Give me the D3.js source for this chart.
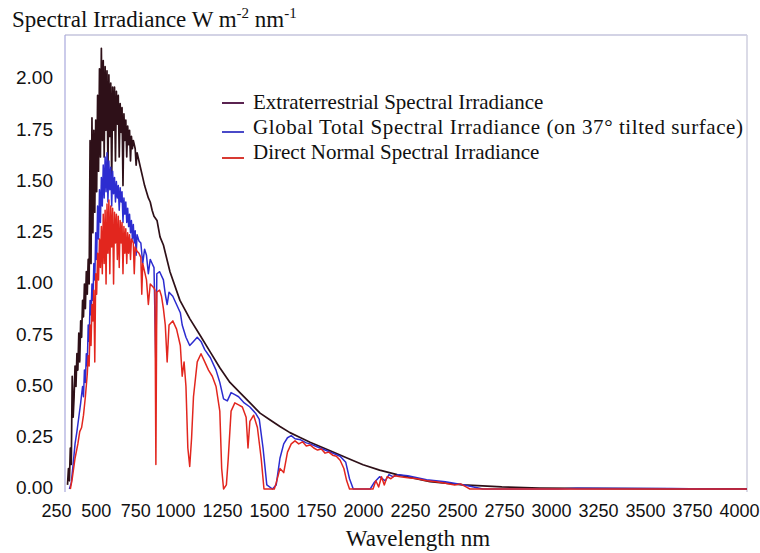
<!DOCTYPE html>
<html><head><meta charset="utf-8">
<script src="https://cdn.jsdelivr.net/npm/d3@7/dist/d3.min.js"></script>
<style>body{margin:0;background:#fff}svg{display:block}</style>
</head><body>
<svg id="c" width="760" height="553"></svg>
<script>
// ---- data ----
const seriesNames = ["Extraterrestrial Spectral Irradiance","Global Total Spectral Irradiance (on 37° tilted surface)","Direct Normal Spectral Irradiance"];
const xTicks = [250,500,750,1000,1250,1500,1750,2000,2250,2500,2750,3000,3250,3500,3750,4000];
const yTicks = [0,0.25,0.5,0.75,1.0,1.25,1.5,1.75,2.0];

const etrWl = [290,295,300,305,310,315,320,325,330,335,340,345,350,355,360,365,370,375,380,385,390,395,400,405,410,415,420,425,430,435,440,445,450,455,460,465,470,475,480,485,490,495,500,505,510,515,520,525,530,535,540,545,550,555,560,565,570,575,580,585,590,595,600,605,610,615,620,625,630,635,640,650,655,660,670,680,690,700,710,720,730,740,750,766,782,800,835,888,941,995,1048,1101,1154,1207,1261,1314,1370,1420,1473,1530,1580,1690,1780,1862,1950,2043,2218,2394,2600,2800,3000,3500,4000];
const etrVal = [0.02,0.10,0.04,0.20,0.12,0.55,0.35,0.45,0.60,0.50,0.66,0.58,0.76,0.62,0.82,0.74,0.92,0.84,1.00,0.88,1.06,0.95,1.12,1.00,1.70,1.10,1.81,1.25,1.75,1.35,1.80,1.45,1.92,1.55,2.05,1.62,2.15,1.70,2.09,1.62,2.06,1.75,2.04,1.55,2.02,1.72,1.98,1.50,1.96,1.75,1.96,1.60,1.94,1.78,1.92,1.62,1.88,1.74,1.86,1.48,1.83,1.70,1.80,1.62,1.77,1.68,1.75,1.60,1.72,1.66,1.70,1.66,1.58,1.64,1.60,1.56,1.52,1.48,1.45,1.42,1.40,1.36,1.33,1.31,1.23,1.19,1.06,0.92,0.83,0.75,0.67,0.59,0.52,0.47,0.42,0.37,0.335,0.305,0.275,0.25,0.228,0.185,0.15,0.118,0.092,0.07,0.036,0.02,0.01,0.005,0.003,0.001,0.0];

const globalWl = [300,310,320,330,340,350,360,370,375,380,385,390,395,400,405,410,415,420,425,430,435,440,445,450,455,460,465,470,475,480,485,490,495,500,505,510,515,520,525,530,535,540,545,550,555,560,565,570,575,580,585,590,595,600,605,610,615,620,625,630,635,640,645,650,655,660,670,680,690,700,710,720,730,740,750,760,765,780,800,810,820,830,850,870,890,900,920,940,960,980,1000,1020,1050,1080,1100,1120,1140,1160,1180,1200,1230,1260,1290,1310,1330,1350,1380,1400,1420,1440,1460,1480,1500,1530,1560,1580,1620,1660,1700,1740,1770,1790,1810,1900,1920,1950,1980,2000,2020,2050,2100,2200,2300,2400,2450,2500,2900,3000,3500,3600,4000];
const globalVal = [0.0,0.03,0.12,0.22,0.28,0.35,0.42,0.50,0.45,0.58,0.52,0.66,0.60,0.80,0.72,0.92,0.85,1.00,0.92,1.10,1.02,1.25,1.12,1.38,1.22,1.46,1.30,1.52,1.38,1.58,1.42,1.62,1.45,1.64,1.40,1.60,1.46,1.57,1.38,1.55,1.44,1.52,1.40,1.50,1.42,1.48,1.36,1.47,1.40,1.45,1.30,1.42,1.34,1.40,1.30,1.37,1.28,1.34,1.25,1.31,1.22,1.29,1.20,1.26,1.14,1.24,1.21,1.20,1.10,1.17,1.14,1.05,1.12,1.10,1.08,0.60,1.05,1.06,1.02,0.95,0.90,0.96,0.94,0.90,0.86,0.80,0.74,0.70,0.72,0.74,0.72,0.68,0.64,0.58,0.52,0.44,0.43,0.47,0.46,0.45,0.42,0.40,0.37,0.34,0.20,0.02,0.0,0.02,0.15,0.22,0.25,0.26,0.245,0.24,0.225,0.22,0.205,0.19,0.175,0.16,0.13,0.05,0.0,0.0,0.03,0.06,0.04,0.07,0.06,0.07,0.065,0.045,0.035,0.02,0.01,0.0,0.0,0.004,0.002,0.001,0.0];

const directWl = [305,315,330,345,355,365,375,385,395,400,405,410,415,420,425,430,435,440,445,450,455,460,465,470,475,480,485,490,495,500,505,510,515,520,525,530,535,540,545,550,555,560,565,570,575,580,585,590,595,600,605,610,615,620,625,630,640,645,650,660,670,680,685,690,700,710,720,730,740,750,755,760,765,780,790,800,810,820,830,850,870,890,900,910,920,930,940,950,960,980,1000,1020,1040,1060,1080,1100,1110,1120,1135,1145,1160,1180,1200,1220,1240,1250,1260,1280,1300,1320,1335,1390,1400,1420,1440,1460,1480,1500,1520,1540,1560,1580,1600,1620,1640,1660,1680,1700,1720,1740,1760,1775,1790,1915,1930,1945,1960,1975,1990,2010,2030,2060,2100,2150,2200,2250,2300,2350,2380,2410,2430,4000];
const directVal = [0.0,0.05,0.15,0.22,0.28,0.30,0.36,0.45,0.56,0.65,0.60,0.80,0.70,0.90,0.82,0.97,0.62,1.05,0.95,1.15,1.02,1.22,1.08,1.28,1.05,1.34,1.10,1.36,1.00,1.39,1.15,1.41,1.05,1.38,1.18,1.37,1.00,1.35,1.20,1.34,1.12,1.33,1.08,1.31,1.20,1.30,1.05,1.28,1.15,1.27,1.10,1.25,1.15,1.24,1.12,1.22,1.20,1.05,1.18,1.16,1.15,1.13,0.95,1.10,1.06,1.02,0.90,1.00,0.99,0.98,0.97,0.12,0.96,0.97,0.94,0.88,0.80,0.62,0.80,0.82,0.78,0.70,0.55,0.62,0.50,0.20,0.11,0.25,0.45,0.62,0.66,0.62,0.58,0.55,0.50,0.38,0.10,0.0,0.02,0.15,0.38,0.42,0.41,0.40,0.35,0.20,0.33,0.36,0.30,0.15,0.0,0.0,0.03,0.10,0.08,0.18,0.22,0.235,0.22,0.23,0.21,0.215,0.20,0.19,0.195,0.175,0.18,0.165,0.16,0.14,0.10,0.04,0.0,0.0,0.04,0.01,0.06,0.02,0.06,0.05,0.065,0.06,0.055,0.05,0.04,0.035,0.028,0.02,0.025,0.01,0.0,0.0];

// ---- drawing ----
const svg = d3.select("#c");
const frame = {l:65, r:747, t:35, b:492};
const x = d3.scaleLinear().domain([250,4000]).range([60,765]);
const xLabel = d3.scaleLinear().domain([250,1000,1250,4000]).range([56,175,222,739]);
const y = d3.scaleLinear().domain([0,2]).range([489,79]);

svg.append("defs").append("clipPath").attr("id","clip")
  .append("rect").attr("x",frame.l).attr("y",frame.t).attr("width",frame.r-frame.l).attr("height",frame.b-frame.t);

// frame
svg.append("line").attr("x1",frame.l).attr("x2",frame.r).attr("y1",frame.t).attr("y2",frame.t).attr("stroke","#c4c4dc").attr("stroke-width",1.5);
svg.append("line").attr("x1",frame.r).attr("x2",frame.r).attr("y1",frame.t).attr("y2",frame.b).attr("stroke","#cfcfdf").attr("stroke-width",1.5);
svg.append("line").attr("x1",frame.l).attr("x2",frame.l).attr("y1",frame.t).attr("y2",frame.b).attr("stroke","#a8a8dc").attr("stroke-width",1.2);

const mk = (wl, val) => wl.map((w,i)=>[w,val[i]]);
const line = d3.line().x(d=>x(d[0])).y(d=>y(d[1]));
const g = svg.append("g").attr("clip-path","url(#clip)");
const series = [
  {data: mk(etrWl, etrVal), color:"#2e1018", w:1.7},
  {data: mk(globalWl, globalVal), color:"#2c2cd0", w:1.5},
  {data: mk(directWl, directVal), color:"#e2261e", w:1.5}
];
g.selectAll("path").data(series).join("path")
  .attr("d", d=>line(d.data)).attr("fill","none")
  .attr("stroke", d=>d.color).attr("stroke-width", d=>d.w).attr("stroke-linejoin","round");

// y axis
const yAxis = d3.axisLeft(y).tickValues(yTicks).tickFormat(d3.format(".2f")).tickSize(0).tickPadding(0);
const ya = svg.append("g").attr("transform","translate(53,0)").call(yAxis);
ya.select(".domain").remove();
ya.selectAll("text").attr("font-family","Liberation Sans, Arial, sans-serif").attr("font-size",19).attr("fill","#111").attr("dy","0.25em");

// x axis labels
const xAxis = d3.axisBottom(xLabel).tickValues(xTicks).tickFormat(d3.format("d")).tickSize(0).tickPadding(0);
const xa = svg.append("g").attr("transform","translate(0,504)").call(xAxis);
xa.select(".domain").remove();
xa.selectAll("text").attr("font-family","Liberation Sans, Arial, sans-serif").attr("font-size",18).attr("fill","#111").attr("dy","0.72em");

// titles
svg.append("text").attr("x",418).attr("y",546).attr("text-anchor","middle")
  .attr("font-family","Liberation Serif, Times New Roman, serif").attr("font-size",23).attr("fill","#111").text("Wavelength nm");
const t = svg.append("text").attr("x",12).attr("y",27)
  .attr("font-family","Liberation Serif, Times New Roman, serif").attr("font-size",23).attr("fill","#111");
t.append("tspan").text("Spectral Irradiance W m");
t.append("tspan").attr("font-size",15).attr("dy",-9).text("-2");
t.append("tspan").attr("dy",9).text(" nm");
t.append("tspan").attr("font-size",15).attr("dy",-9).text("-1");

// legend
const legColors = ["#5a2350","#4a4ac8","#d83a32"];
const leg = svg.append("g");
const rowsY = [102,127,152];
const lineOff = [1,5,6];
seriesNames.forEach((n,i)=>{
  leg.append("line").attr("x1",222).attr("x2",244).attr("y1",rowsY[i]+lineOff[i]).attr("y2",rowsY[i]+lineOff[i])
    .attr("stroke",legColors[i]).attr("stroke-width",2);
  const tx = leg.append("text").attr("x",253).attr("y",rowsY[i]).attr("dy","0.35em")
    .attr("font-family","Liberation Serif, Times New Roman, serif").attr("font-size",21).attr("fill","#111").text(n);
  if (i === 1) tx.attr("textLength",490).attr("lengthAdjust","spacing");
});
</script>
</body></html>
